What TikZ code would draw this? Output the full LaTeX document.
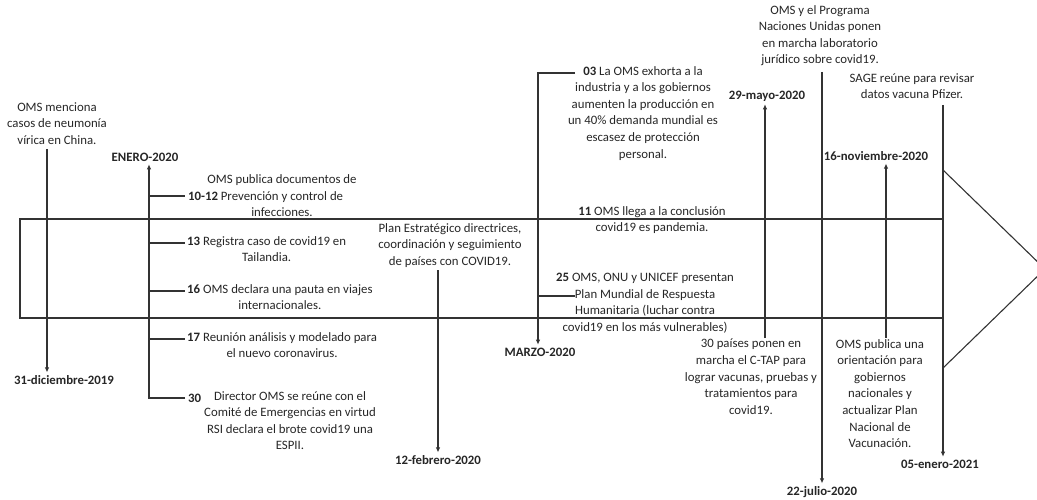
\documentclass[tikz,border=0pt]{standalone}
\usepackage{fontspec}
\setmainfont{Carlito}
\usepackage{tikz}
\usetikzlibrary{calc}
\usetikzlibrary{arrows.meta}
\tikzset{>={Latex[width=1.6mm,length=1.8mm]}}

\begin{document}
\begin{tikzpicture}[
    x = 1pt, y = -1pt,
    line/.style = {draw=black!80, line width=1.1pt},
    txt/.style = {align=center, inner sep=0pt, text=black!85,
        font=\fontsize{12.8}{16.6}\selectfont},
    fecha/.style = {txt, outer sep=3pt,
        font=\fontsize{12.8}{16.6}\selectfont\bfseries}
  ]
  \useasboundingbox (0,0) rectangle (1037,500);
  \clip (0,0) rectangle (1037,500);

  % cuerpo de la flecha
  \draw[line] (943,219) -- (20,219) -- (20,318) -- (943,318);
  \draw[line] (943,170) -- (1045,269) -- (943,368) -- cycle;

  % 31-diciembre-2019
  \node[txt, anchor=north] (DICt) at (57,102) {OMS menciona\\casos de neumonía\\vírica en China.};
  \node[fecha] (DIC) at (64,380) {31-diciembre-2019};
  \coordinate (dic) at (47,149);
  \draw[line, ->] (dic) -- (dic |- DIC.north);

  % enero-2020
  \node[fecha] (ENE) at (145,157) {ENERO-2020};
  \coordinate (ene) at (149,398);
  \foreach \y/\n in {196/a, 243/b, 291/c, 339/d, 398/e}
    \coordinate (ene-\n) at (185,\y);
  \draw[line, ->] (ene-e) -- (ene) -- (ene |- ENE.south);
  \foreach \n in {a,b,c,d}
    \draw[line] (ene |- ene-\n) -- (ene-\n);

  \node[txt, anchor=west, xshift=3pt] (n1012) at (ene-a) {\textbf{10-12}};
  \node[txt] (t1012) at (282,196) {OMS publica documentos de\\Prevención y control de\\infecciones.};
  \node[txt, anchor=north west, xshift=2pt, yshift=7pt] (t13) at (ene-b)
    {\textbf{13} Registra caso de covid19 en\\Tailandia.};
  \node[txt, anchor=north west, xshift=2pt, yshift=7pt] (t16) at (ene-c)
    {\textbf{16} OMS declara una pauta en viajes\\internacionales.};
  \node[txt, anchor=north west, xshift=2pt, yshift=7pt] (t17) at (ene-d)
    {\textbf{17} Reunión análisis y modelado para\\el nuevo coronavirus.};
  \node[txt, anchor=west, xshift=3pt] (n30) at (ene-e) {\textbf{30}};
  \node[txt, anchor=north] (t30) at (290,391) {Director OMS se reúne con el\\Comité de Emergencias en virtud\\RSI declara el brote covid19 una\\ESPII.};

  % 12-febrero-2020
  \node[txt, anchor=north] (FEBt) at (450,223) {Plan Estratégico directrices,\\coordinación y seguimiento\\de países con COVID19.};
  \node[fecha] (FEB) at (438,460) {12-febrero-2020};
  \coordinate (feb) at (438,270);
  \draw[line, ->] (feb) -- (feb |- FEB.north);

  % marzo-2020
  \node[fecha] (MAR) at (540,352) {MARZO-2020};
  \coordinate (mar) at (538,73);
  \coordinate (mar-a) at (575,73);
  \coordinate (mar-b) at (575,296);
  \draw[line, ->] (mar-a) -- (mar) -- (mar |- MAR.north);
  \draw[line] (mar |- mar-b) -- (mar-b);
  \node[txt, anchor=north] (t03) at (643,66) {\textbf{03} La OMS exhorta a la\\industria y a los gobiernos\\aumenten la producción en\\un 40\% demanda mundial es\\escasez de protección\\personal.};
  \node[txt, anchor=north] (t11) at (652,206) {\textbf{11} OMS llega a la conclusión\\covid19 es pandemia.};
  \node[txt, anchor=north] (t25) at (645,273) {\textbf{25} OMS, ONU y UNICEF presentan\\Plan Mundial de Respuesta\\Humanitaria (luchar contra\\covid19 en los más vulnerables)};

  % 29-mayo-2020
  \node[fecha] (MAY) at (767,96) {29-mayo-2020};
  \node[txt, anchor=north] (MAYt) at (751,339) {30 países ponen en\\marcha el C-TAP para\\lograr vacunas, pruebas y\\tratamientos para\\covid19.};
  \coordinate (may) at (765,338);
  \draw[line, ->] (may) -- (may |- MAY.south);

  % 22-julio-2020
  \node[txt, anchor=north] (JULt) at (820,5) {OMS y el Programa\\Naciones Unidas ponen\\en marcha laboratorio\\jurídico sobre covid19.};
  \node[fecha] (JUL) at (822,492) {22-julio-2020};
  \coordinate (jul) at (822,72);
  \draw[line, ->] (jul) -- (jul |- JUL.north);

  % 16-noviembre-2020
  \node[fecha] (NOV) at (876,156) {16-noviembre-2020};
  \node[txt, anchor=north] (NOVt) at (880,339) {OMS publica una\\orientación para\\gobiernos\\nacionales y\\actualizar Plan\\Nacional de\\Vacunación.};
  \coordinate (nov) at (886,338);
  \draw[line, ->] (nov) -- (nov |- NOV.south);

  % 05-enero-2021
  \node[txt, anchor=north] (SAGEt) at (912,73) {SAGE reúne para revisar\\datos vacuna Pfizer.};
  \node[fecha] (EN21) at (940,464) {05-enero-2021};
  \coordinate (en21) at (943,105);
  \draw[line, ->] (en21) -- (en21 |- EN21.north);
\end{tikzpicture}
\end{document}
